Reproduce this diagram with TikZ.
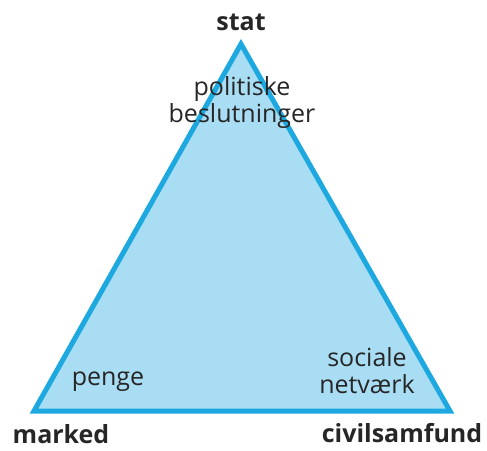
\documentclass[tikz,border=0pt]{standalone}
\usepackage{fontspec}
\setmainfont{Open Sans}
\definecolor{triFill}{HTML}{A9DDF4}
\definecolor{triLine}{HTML}{1DA9E0}
\begin{document}
\begin{tikzpicture}[x=1pt,y=-1pt,
  corner/.style={font=\fontsize{25}{27}\selectfont\bfseries, text=black!85, inner sep=0pt, anchor=base},
  inner/.style={font=\fontsize{25}{27}\selectfont, text=black!85, inner sep=0pt, align=center, anchor=base}]
\useasboundingbox (0,0) rectangle (487,450);
\coordinate (A) at (241,44);
\coordinate (B) at (34,411);
\coordinate (C) at (450,411);
\draw[triLine, fill=triFill, line width=5pt, line join=miter] (A) -- (B) -- (C) -- cycle;
\node[corner] (stat) at (241,30) {stat};
\node[corner] (marked) at (61,443) {marked};
\node[corner] (civil) at (402,442) {civilsamfund};
\node[inner] (pol) at (242,122) {politiske\\beslutninger};
\node[inner] (penge) at (108,385) {penge};
\node[inner] (soc) at (367,393) {sociale\\netværk};
\end{tikzpicture}
\end{document}
